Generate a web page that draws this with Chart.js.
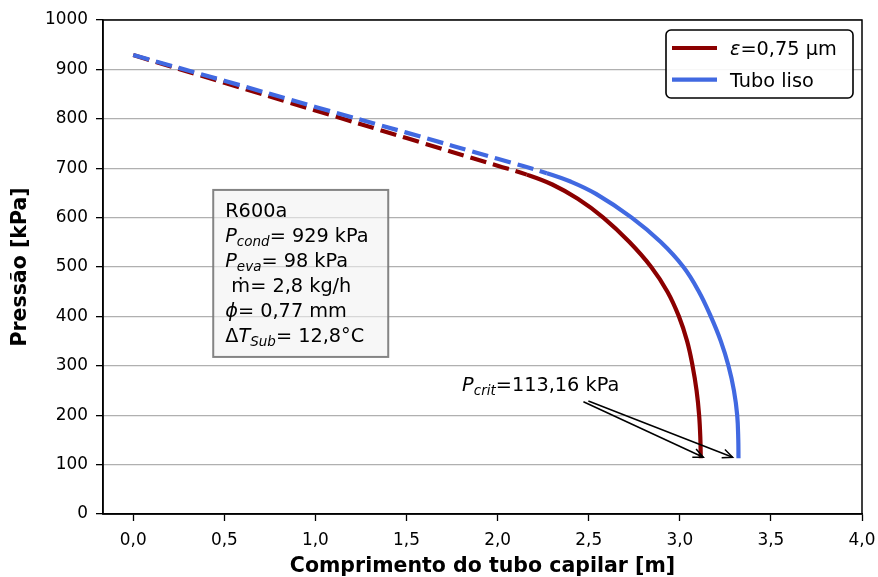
<!DOCTYPE html>
<html><head><meta charset="utf-8">
<script src="https://cdn.jsdelivr.net/npm/chart.js@4/dist/chart.umd.min.js"></script>
<style>html,body{margin:0;padding:0;background:#fff;overflow:hidden}</style>
</head><body>
<canvas id="c" width="878" height="577" style="display:block;width:878px;height:577px"></canvas>
<script>
// ---- data ----
const roughX = [0, 0.5, 1.0, 1.5, 2.0, 2.16, 2.30, 2.44, 2.58, 2.722, 2.843, 2.932, 2.995, 3.04, 3.07, 3.092, 3.106, 3.113, 3.115];
const roughY = [929, 873, 817, 761, 705, 687, 667, 638, 600, 551, 500, 450, 400, 350, 300, 250, 200, 150, 113];
const smoothX = [0, 0.5, 1.0, 1.5, 2.0, 2.27, 2.40, 2.54, 2.736, 2.894, 3.02, 3.105, 3.17, 3.225, 3.267, 3.297, 3.315, 3.321, 3.322];
const smoothY = [929, 877, 824, 772, 719, 690, 673, 648, 600, 551, 500, 450, 400, 350, 300, 250, 200, 150, 113];
const roughDashEnd = 2.16;
const smoothDashEnd = 2.27;
const seriesNames = ['ε=0,75 μm', 'Tubo liso'];
const xTickValues = [0, 0.5, 1.0, 1.5, 2.0, 2.5, 3.0, 3.5, 4.0];
const yTickValues = [0, 100, 200, 300, 400, 500, 600, 700, 800, 900, 1000];
const pCritLabel = '113,16 kPa';
const infoLines = [
  [['R600a', 'n']],
  [['P', 'i'], ['cond', 's'], ['= 929 kPa', 'n']],
  [['P', 'i'], ['eva', 's'], ['= 98 kPa', 'n']],
  [[' ṁ= 2,8 kg/h', 'n']],
  [['ϕ', 'i'], ['= 0,77 mm', 'n']],
  [['Δ', 'n'], ['T', 'i'], ['Sub', 's'], ['= 12,8°C', 'n']]
];

const FAM = '"DejaVu Sans", "Liberation Sans", sans-serif';
const RED = '#8b0000', BLUE = '#4169e1';
const DASH = [16.5, 7];

function drawRich(ctx, x, y, parts, size) {
  let cx = x;
  for (const [t, st] of parts) {
    let fs = size, dy = 0, style = '';
    if (st === 'i') style = 'italic ';
    if (st === 's') { style = 'italic '; fs = size * 0.7; dy = size * 0.22; }
    ctx.font = style + fs + 'px ' + FAM;
    ctx.fillText(t, cx, y + dy);
    cx += ctx.measureText(t).width;
  }
  return cx;
}
function arrow(ctx, x1, y1, x2, y2) {
  ctx.beginPath(); ctx.moveTo(x1, y1); ctx.lineTo(x2, y2); ctx.stroke();
  const a = Math.atan2(y2 - y1, x2 - x1), L = 11, h = 0.42;
  ctx.beginPath();
  ctx.moveTo(x2 - L * Math.cos(a - h), y2 - L * Math.sin(a - h));
  ctx.lineTo(x2, y2);
  ctx.lineTo(x2 - L * Math.cos(a + h), y2 - L * Math.sin(a + h));
  ctx.stroke();
}

const overlay = {
  id: 'overlay',
  afterDatasetsDraw(chart) {
    const ctx = chart.ctx, a = chart.chartArea, xs = chart.scales.x, ys = chart.scales.y;
    ctx.save();
    ctx.strokeStyle = '#000'; ctx.lineWidth = 1.5;
    ctx.strokeRect(a.left, a.top, a.right - a.left, a.bottom - a.top);

    // info box
    const bx = xs.getPixelForValue(0.439), by = ys.getPixelForValue(656);
    const bw = 175, bh = 167;
    ctx.fillStyle = 'rgba(242,242,242,0.6)';
    ctx.fillRect(bx, by, bw, bh);
    ctx.strokeStyle = 'rgba(120,120,120,0.9)'; ctx.lineWidth = 2;
    ctx.strokeRect(bx, by, bw, bh);
    ctx.fillStyle = '#000'; ctx.textBaseline = 'alphabetic'; ctx.textAlign = 'left';
    infoLines.forEach((ln, i) => drawRich(ctx, bx + 12, by + 26.7 + i * 25, ln, 19.3));

    // P_crit annotation
    const tx = xs.getPixelForValue(1.805), ty = ys.getPixelForValue(249);
    drawRich(ctx, tx, ty, [['P', 'i'], ['crit', 's'], ['=' + pCritLabel, 'n']], 19.3);
    ctx.strokeStyle = '#000'; ctx.lineWidth = 1.5;
    arrow(ctx, xs.getPixelForValue(2.471), ys.getPixelForValue(227.3), xs.getPixelForValue(3.129), ys.getPixelForValue(114.8));
    arrow(ctx, xs.getPixelForValue(2.498), ys.getPixelForValue(228.7), xs.getPixelForValue(3.290), ys.getPixelForValue(114.8));

    // legend
    const lw = 187, lh = 68, lx = a.right - 9 - lw, ly = a.top + 10;
    ctx.beginPath();
    ctx.roundRect(lx, ly, lw, lh, 5);
    ctx.fillStyle = 'rgba(255,255,255,0.9)'; ctx.fill();
    ctx.strokeStyle = '#000'; ctx.lineWidth = 1.6; ctx.stroke();
    const rows = [[RED, [['ε', 'i'], ['=0,75 μm', 'n']]], [BLUE, [[seriesNames[1], 'n']]]];
    rows.forEach(([col, parts], i) => {
      const cy = ly + 18 + i * 31.7;
      ctx.strokeStyle = col; ctx.lineWidth = 4.2; ctx.lineCap = 'butt';
      ctx.beginPath(); ctx.moveTo(lx + 6, cy); ctx.lineTo(lx + 51, cy); ctx.stroke();
      ctx.fillStyle = '#000';
      drawRich(ctx, lx + 64, cy + 7.3, parts, 19.3);
    });
    ctx.restore();
  }
};

const tickFont = { family: FAM, size: 16.9 };
const titleFont = { family: FAM, size: 20.5, weight: 'bold', lineHeight: 1 };

new Chart(document.getElementById('c').getContext('2d'), {
  type: 'line',
  data: {
    datasets: [
      {
        label: seriesNames[0],
        data: roughX.map((x, i) => ({ x, y: roughY[i] })),
        borderColor: RED, borderWidth: 4.2, pointRadius: 0, tension: 0.4, order: 1,
        segment: { borderDash: c => c.p1.parsed.x <= roughDashEnd + 1e-9 ? DASH : [] }
      },
      {
        label: seriesNames[1],
        data: smoothX.map((x, i) => ({ x, y: smoothY[i] })),
        borderColor: BLUE, borderWidth: 4.2, pointRadius: 0, tension: 0.4, order: 0,
        segment: { borderDash: c => c.p1.parsed.x <= smoothDashEnd + 1e-9 ? DASH : [] }
      }
    ]
  },
  options: {
    responsive: false, animation: false, devicePixelRatio: 1,
    layout: { padding: { top: 20, right: 16, left: 0, bottom: 0 } },
    plugins: { legend: { display: false }, tooltip: { enabled: false } },
    scales: {
      x: {
        type: 'linear', min: -0.166, max: 4.0,
        afterBuildTicks: s => { s.ticks = xTickValues.map(v => ({ value: v })); },
        ticks: { font: tickFont, color: '#000', padding: 9, maxRotation: 0,
          callback: v => Number(v).toFixed(1).replace('.', ',') },
        grid: { drawOnChartArea: false, tickLength: 7, tickColor: '#000', tickWidth: 1.3 },
        border: { color: '#000', width: 1.5 },
        title: { display: true, text: 'Comprimento do tubo capilar [m]', font: titleFont, color: '#000', padding: 0 },
        afterFit: s => { s.height = 63; s.paddingLeft = 0; s.paddingRight = 0; }
      },
      y: {
        type: 'linear', min: 0, max: 1000,
        afterBuildTicks: s => { s.ticks = yTickValues.map(v => ({ value: v })); },
        ticks: { font: tickFont, color: '#000', padding: 8, callback: v => String(v) },
        grid: { color: '#b0b0b0', lineWidth: 1.3, tickLength: 7, tickColor: '#000', tickWidth: 1.3 },
        border: { color: '#000', width: 1.5 },
        title: { display: true, text: 'Pressão [kPa]', font: titleFont, color: '#000', padding: { top: 10, bottom: 0 } },
        afterFit: s => { s.width = 103; s.paddingTop = 0; s.paddingBottom = 0; }
      }
    }
  },
  plugins: [overlay]
});
</script>
</body></html>
